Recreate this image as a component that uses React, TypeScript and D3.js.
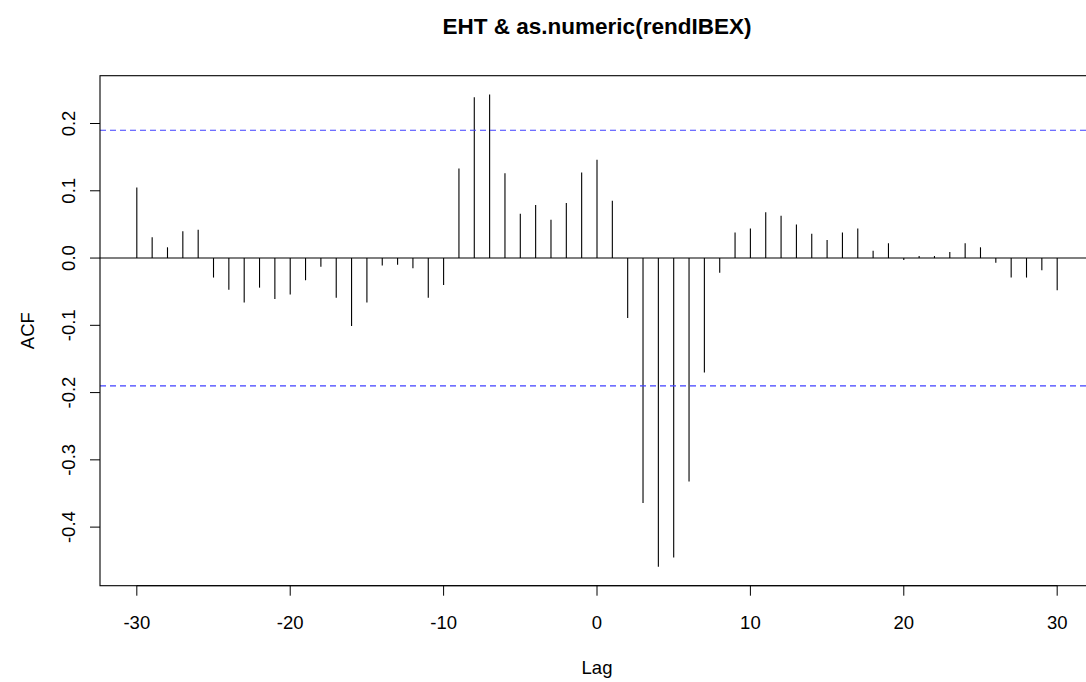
import React from "react";
import * as d3 from "d3";

// cross-correlation values, lags -30..30
const lags = d3.range(-30, 31);
const acfValues = [
  0.105, 0.031, 0.016, 0.04, 0.042, -0.029, -0.047, -0.066, -0.044, -0.061,
  -0.054, -0.033, -0.013, -0.059, -0.101, -0.066, -0.011, -0.01, -0.015, -0.059,
  -0.04, 0.133, 0.239, 0.243, 0.126, 0.066, 0.079, 0.057, 0.082, 0.127,
  0.146, 0.085, -0.089, -0.364, -0.459, -0.445, -0.332, -0.17, -0.022, 0.038,
  0.044, 0.068, 0.063, 0.05, 0.036, 0.027, 0.038, 0.044, 0.011, 0.022,
  -0.003, 0.003, 0.003, 0.009, 0.022, 0.016, -0.007, -0.029, -0.029, -0.018,
  -0.048,
];
const ciLimit = 0.19;
const xTicks = [-30, -20, -10, 0, 10, 20, 30];
const yTicks = [-0.4, -0.3, -0.2, -0.1, 0.0, 0.1, 0.2];

const W = 1086;
const H = 682;
const left = 100;
const right = 1094; // plot region runs off the right edge of the image
const top = 75.7;
const bottom = 585.7;
const font = "Liberation Sans, Arial, sans-serif";
const axisSize = 18.5;

export default function App() {
  const ymin = d3.min(acfValues)!;
  const ymax = d3.max(acfValues)!;
  const yPad = (ymax - ymin) * 0.04;
  const xPad = 60 * 0.04;

  const x = d3.scaleLinear().domain([-30 - xPad, 30 + xPad]).range([left, right]);
  const y = d3.scaleLinear().domain([ymin - yPad, ymax + yPad]).range([bottom, top]);

  return (
    <svg width={W} height={H} style={{ position: "absolute", left: 0, top: 0, background: "white" }}>
      <text x={(left + right) / 2} y={34} textAnchor="middle" fontFamily={font} fontWeight="bold" fontSize={22.5}>
        EHT &amp; as.numeric(rendIBEX)
      </text>

      {/* spikes */}
      {lags.map((lag, i) => (
        <line key={lag} x1={x(lag)} x2={x(lag)} y1={y(0)} y2={y(acfValues[i])} stroke="black" strokeWidth={1.1} />
      ))}

      {/* zero line */}
      <line x1={left} x2={right} y1={y(0)} y2={y(0)} stroke="black" strokeWidth={1.1} />

      {/* confidence bounds */}
      {[ciLimit, -ciLimit].map((c) => (
        <line key={c} x1={left} x2={right} y1={y(c)} y2={y(c)} stroke="#4040ff" strokeWidth={1.1} strokeDasharray="6,4" />
      ))}

      {/* box */}
      <rect x={left} y={top} width={right - left} height={bottom - top} fill="none" stroke="black" strokeWidth={1.1} />

      {/* x axis */}
      <line x1={x(-30)} x2={x(30)} y1={bottom} y2={bottom} stroke="black" />
      {xTicks.map((t) => (
        <g key={t}>
          <line x1={x(t)} x2={x(t)} y1={bottom} y2={bottom + 10} stroke="black" />
          <text x={x(t)} y={bottom + 43} textAnchor="middle" fontFamily={font} fontSize={axisSize}>
            {t}
          </text>
        </g>
      ))}
      <text x={(left + right) / 2} y={674} textAnchor="middle" fontFamily={font} fontSize={axisSize}>
        Lag
      </text>

      {/* y axis */}
      {yTicks.map((t) => (
        <g key={t}>
          <line x1={left - 10} x2={left} y1={y(t)} y2={y(t)} stroke="black" />
          <text
            transform={`translate(${left - 25},${y(t)}) rotate(-90)`}
            textAnchor="middle"
            fontFamily={font}
            fontSize={axisSize}
          >
            {t.toFixed(1)}
          </text>
        </g>
      ))}
      <text
        transform={`translate(34,${(top + bottom) / 2}) rotate(-90)`}
        textAnchor="middle"
        fontFamily={font}
        fontSize={axisSize}
      >
        ACF
      </text>
    </svg>
  );
}
